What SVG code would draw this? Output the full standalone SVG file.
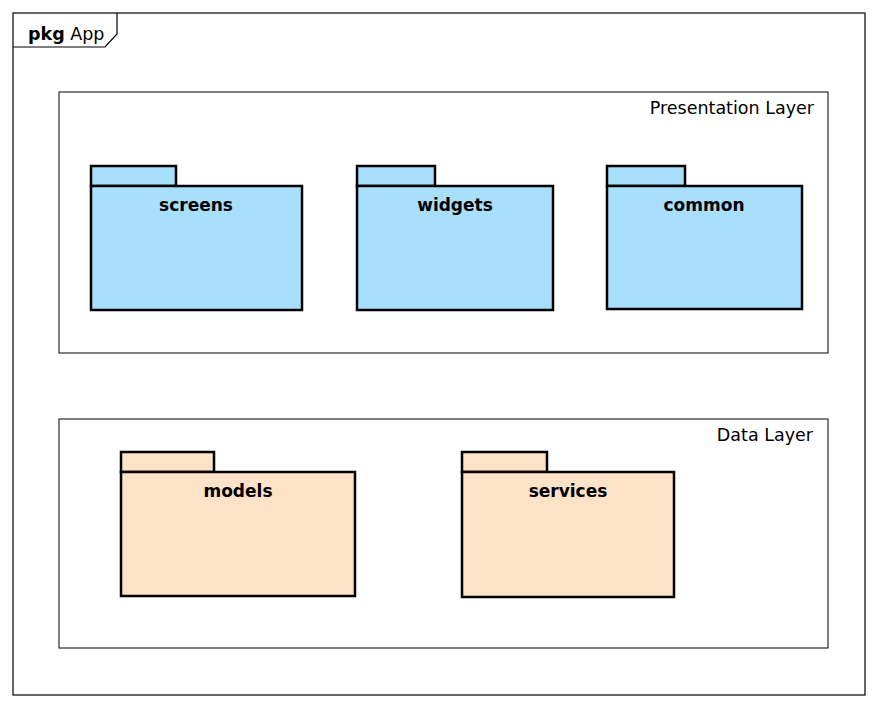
<svg xmlns="http://www.w3.org/2000/svg" width="878" height="708" viewBox="0 0 878 708">
<style>
  .frame{fill:#fff;stroke:#000;stroke-width:1.2}
  .layer{fill:#fff;stroke:#000;stroke-width:1}
  .lbl{font-family:"DejaVu Sans",sans-serif;font-size:17.5px;fill:#000}
  .pkgname{font-family:"DejaVu Sans",sans-serif;font-size:17px;font-weight:bold;fill:#000;text-anchor:middle}
  .blue{fill:#A8DFFC;stroke:#000;stroke-width:2.5}
  .peach{fill:#FCE2C6;stroke:#000;stroke-width:2.5}
</style>
<rect width="878" height="708" fill="#fff"/>
<g id="frame">
  <rect class="frame" x="13" y="13" width="852" height="682"/>
  <path d="M13,47 L105,47 L117,34 L117,13" fill="none" stroke="#000" stroke-width="1.2"/>
  <text class="lbl" x="28" y="40" font-size="16.5"><tspan font-weight="bold">pkg</tspan> App</text>
</g>
<g id="presentation-layer">
  <rect class="layer" x="59" y="92" width="769" height="261"/>
  <text class="lbl" x="814" y="114" text-anchor="end">Presentation Layer</text>
</g>
<g id="data-layer">
  <rect class="layer" x="59" y="419" width="769" height="229"/>
  <text class="lbl" x="813" y="441" text-anchor="end">Data Layer</text>
</g>
<g id="screens">
  <rect class="blue" x="91" y="166" width="85" height="20"/>
  <rect class="blue" x="91" y="186" width="211" height="124"/>
  <text class="pkgname" x="196" y="211">screens</text>
</g>
<g id="widgets">
  <rect class="blue" x="357" y="166" width="78" height="20"/>
  <rect class="blue" x="357" y="186" width="196" height="124"/>
  <text class="pkgname" x="455" y="211">widgets</text>
</g>
<g id="common">
  <rect class="blue" x="607" y="166" width="78" height="20"/>
  <rect class="blue" x="607" y="186" width="195" height="123"/>
  <text class="pkgname" x="704" y="211">common</text>
</g>
<g id="models">
  <rect class="peach" x="121" y="452" width="93" height="20"/>
  <rect class="peach" x="121" y="472" width="234" height="124"/>
  <text class="pkgname" x="238" y="497">models</text>
</g>
<g id="services">
  <rect class="peach" x="462" y="452" width="85" height="20"/>
  <rect class="peach" x="462" y="472" width="212" height="125"/>
  <text class="pkgname" x="568" y="497">services</text>
</g>
<g id="connectors"></g>
</svg>
